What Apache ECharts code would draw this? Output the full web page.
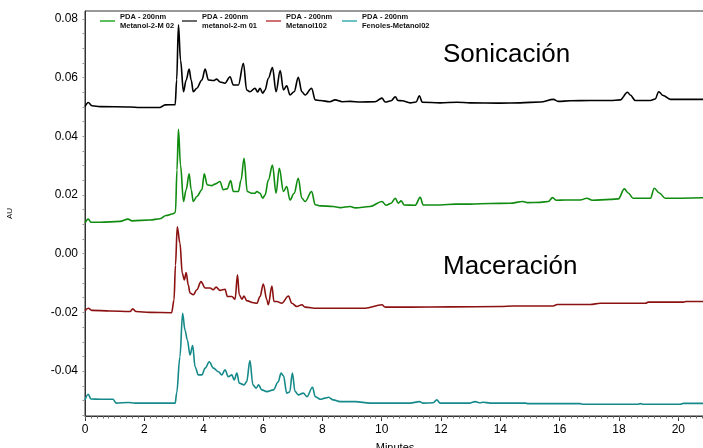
<!DOCTYPE html>
<html>
<head>
<meta charset="utf-8">
<script src="https://cdn.jsdelivr.net/npm/echarts@6/dist/echarts.min.js"></script>
<style>
  html, body { margin: 0; padding: 0; background: #fff; }
  #chart { width: 703px; height: 448px; }
</style>
</head>
<body>
<div id="chart"></div>
<script>
// HPLC chromatograms, PDA 200 nm: [time (min), absorbance (AU)]
const metanol2m01 = [
  [0.00,0.0501],[0.11,0.0515],[0.24,0.0504],[0.51,0.0501],[1.52,0.0500],[1.85,0.0498],[2.53,0.0498],
  [2.70,0.0507],[3.04,0.0508],[3.09,0.0592],[3.15,0.0780],[3.22,0.0660],[3.32,0.0552],[3.41,0.0592],
  [3.51,0.0629],[3.58,0.0592],[3.65,0.0552],[3.77,0.0564],[3.94,0.0592],[4.05,0.0629],[4.16,0.0592],
  [4.33,0.0590],[4.44,0.0595],[4.55,0.0585],[4.72,0.0581],[4.89,0.0603],[5.00,0.0575],[5.17,0.0575],
  [5.34,0.0649],[5.45,0.0558],[5.56,0.0552],[5.73,0.0564],[5.82,0.0551],[5.90,0.0564],[5.99,0.0547],
  [6.07,0.0558],[6.18,0.0598],[6.32,0.0634],[6.44,0.0552],[6.58,0.0624],[6.69,0.0558],[6.80,0.0572],
  [6.91,0.0541],[7.05,0.0552],[7.19,0.0601],[7.31,0.0552],[7.42,0.0541],[7.64,0.0564],[7.76,0.0524],
  [7.93,0.0522],[8.26,0.0518],[8.43,0.0524],[8.67,0.0518],[8.94,0.0519],[9.28,0.0517],[9.78,0.0518],
  [10.01,0.0530],[10.12,0.0517],[10.32,0.0521],[10.46,0.0535],[10.55,0.0522],[10.69,0.0521],
  [10.96,0.0514],[11.16,0.0517],[11.27,0.0538],[11.37,0.0516],[11.97,0.0514],[12.54,0.0516],
  [12.98,0.0514],[14.00,0.0513],[14.67,0.0514],[15.35,0.0517],[15.79,0.0526],[15.95,0.0519],
  [16.36,0.0521],[17.03,0.0522],[17.71,0.0522],[18.04,0.0524],[18.29,0.0550],[18.38,0.0541],
  [18.55,0.0522],[19.06,0.0522],[19.22,0.0527],[19.34,0.0552],[19.49,0.0539],[19.73,0.0526],
  [20.90,0.0526]
];

const metanol2M02 = [
  [0.00,0.0105],[0.11,0.0118],[0.20,0.0107],[0.51,0.0107],[1.18,0.0110],[1.45,0.0118],[1.59,0.0112],
  [2.19,0.0115],[2.53,0.0119],[2.73,0.0130],[2.97,0.0136],[3.05,0.0142],[3.10,0.0285],[3.15,0.0424],
  [3.22,0.0302],[3.32,0.0178],[3.41,0.0218],[3.51,0.0272],[3.58,0.0218],[3.65,0.0178],[3.77,0.0195],
  [3.94,0.0218],[4.02,0.0272],[4.12,0.0235],[4.27,0.0232],[4.38,0.0237],[4.55,0.0246],[4.66,0.0218],
  [4.79,0.0221],[4.91,0.0249],[5.00,0.0212],[5.17,0.0212],[5.26,0.0251],[5.36,0.0325],[5.47,0.0212],
  [5.62,0.0206],[5.73,0.0206],[5.79,0.0212],[5.90,0.0206],[5.99,0.0189],[6.07,0.0200],[6.18,0.0251],
  [6.32,0.0302],[6.44,0.0206],[6.55,0.0291],[6.69,0.0212],[6.80,0.0229],[6.91,0.0183],[7.05,0.0206],
  [7.19,0.0257],[7.31,0.0189],[7.42,0.0178],[7.64,0.0212],[7.76,0.0167],[7.93,0.0163],[8.37,0.0161],
  [8.60,0.0157],[8.94,0.0161],[9.11,0.0156],[9.61,0.0161],[10.01,0.0178],[10.15,0.0165],
  [10.32,0.0172],[10.46,0.0189],[10.56,0.0172],[10.66,0.0180],[10.76,0.0166],[11.13,0.0165],
  [11.30,0.0192],[11.40,0.0166],[11.97,0.0166],[12.48,0.0169],[12.98,0.0169],[13.66,0.0171],
  [14.33,0.0172],[14.76,0.0178],[14.91,0.0174],[15.35,0.0175],[15.62,0.0178],[15.76,0.0191],
  [15.89,0.0182],[16.19,0.0183],[16.69,0.0183],[16.92,0.0189],[17.10,0.0182],[17.71,0.0185],
  [17.98,0.0187],[18.18,0.0221],[18.31,0.0207],[18.48,0.0189],[19.06,0.0189],[19.19,0.0223],
  [19.36,0.0207],[19.56,0.0189],[20.90,0.0191]
];

const metanol102 = [
  [0.00,-0.0194],[0.11,-0.0186],[0.24,-0.0193],[0.84,-0.0195],[1.52,-0.0197],[1.61,-0.0188],
  [1.72,-0.0197],[2.19,-0.0200],[2.92,-0.0201],[3.00,-0.0158],[3.05,-0.0039],[3.11,0.0092],
  [3.20,0.0036],[3.28,-0.0067],[3.35,-0.0089],[3.41,-0.0064],[3.48,-0.0106],[3.54,-0.0134],
  [3.65,-0.0140],[3.77,-0.0123],[3.91,-0.0095],[4.05,-0.0117],[4.22,-0.0117],[4.32,-0.0123],
  [4.42,-0.0114],[4.55,-0.0125],[4.72,-0.0121],[4.80,-0.0146],[4.95,-0.0146],[5.06,-0.0155],
  [5.14,-0.0072],[5.20,-0.0140],[5.29,-0.0155],[5.36,-0.0144],[5.45,-0.0160],[5.68,-0.0167],
  [5.79,-0.0169],[5.90,-0.0146],[6.01,-0.0103],[6.13,-0.0157],[6.18,-0.0174],[6.30,-0.0110],
  [6.37,-0.0163],[6.47,-0.0163],[6.63,-0.0169],[6.86,-0.0144],[6.97,-0.0169],[7.14,-0.0180],
  [7.31,-0.0174],[7.42,-0.0182],[7.81,-0.0186],[8.37,-0.0186],[8.94,-0.0186],[9.44,-0.0186],
  [10.01,-0.0174],[10.12,-0.0182],[10.96,-0.0182],[12.31,-0.0181],[14.00,-0.0180],[14.44,-0.0178],
  [15.78,-0.0178],[15.92,-0.0173],[17.03,-0.0173],[17.37,-0.0169],[18.89,-0.0169],[18.99,-0.0165],
  [20.17,-0.0165],[20.27,-0.0163],[20.90,-0.0163]
];

const fenolesMetanol02 = [
  [0.00,-0.0498],[0.11,-0.0479],[0.20,-0.0495],[0.51,-0.0496],[0.94,-0.0496],[1.05,-0.0509],
  [1.45,-0.0507],[1.69,-0.0509],[3.04,-0.0509],[3.09,-0.0475],[3.20,-0.0351],[3.29,-0.0203],
  [3.37,-0.0260],[3.45,-0.0294],[3.54,-0.0345],[3.63,-0.0313],[3.71,-0.0385],[3.82,-0.0413],
  [3.94,-0.0413],[4.05,-0.0390],[4.19,-0.0368],[4.33,-0.0390],[4.50,-0.0402],[4.61,-0.0413],
  [4.72,-0.0396],[4.83,-0.0419],[4.95,-0.0413],[5.03,-0.0430],[5.12,-0.0407],[5.20,-0.0441],
  [5.36,-0.0447],[5.45,-0.0436],[5.56,-0.0364],[5.66,-0.0447],[5.77,-0.0458],[5.85,-0.0447],
  [5.96,-0.0464],[6.13,-0.0470],[6.35,-0.0464],[6.51,-0.0437],[6.61,-0.0407],[6.69,-0.0416],
  [6.80,-0.0475],[6.90,-0.0471],[6.99,-0.0407],[7.08,-0.0469],[7.19,-0.0481],[7.36,-0.0475],
  [7.48,-0.0487],[7.67,-0.0455],[7.76,-0.0487],[7.93,-0.0496],[8.09,-0.0492],[8.21,-0.0489],
  [8.37,-0.0498],[8.60,-0.0504],[9.11,-0.0504],[9.61,-0.0509],[10.96,-0.0509],[11.27,-0.0504],
  [11.40,-0.0509],[11.74,-0.0508],[11.86,-0.0498],[11.97,-0.0509],[12.98,-0.0509],[13.15,-0.0504],
  [13.32,-0.0508],[13.42,-0.0506],[13.66,-0.0509],[14.84,-0.0509],[14.94,-0.0511],[16.69,-0.0511],
  [16.79,-0.0513],[18.62,-0.0513],[18.72,-0.0511],[18.82,-0.0513],[20.07,-0.0513],[20.17,-0.0510],
  [20.90,-0.0510]
];

const timeTickLabels = [0, 2, 4, 6, 8, 10, 12, 14, 16, 18, 20];
const auTickLabels = [-0.04, -0.02, 0.00, 0.02, 0.04, 0.06, 0.08];

const seriesNames = [
  'PDA - 200nm\nMetanol-2-M 02',
  'PDA - 200nm\nmetanol-2-m 01',
  'PDA - 200nm\nMetanol102',
  'PDA - 200nm\nFenoles-Metanol02'
];
const traceColors = ['#108c10', '#000000', '#8c1212', '#168a8a'];
const legendColors = ['#5cbf5c', '#6a6a6a', '#d07070', '#6cc2c2'];
const traceData = [metanol2M02, metanol2m01, metanol102, fenolesMetanol02];
const legendLeft = [100, 182, 266, 342];

const X_MIN = 0, X_MAX = 20.9, Y_MIN = -0.0553, Y_MAX = 0.0827;

// minor tick positions along each axis
const minorTimeTicks = [];
for (let i = 0; i <= 104; i++) minorTimeTicks.push(+(i * 0.2).toFixed(1));
const minorAuTicks = [];
for (let i = -11; i <= 16; i++) minorAuTicks.push(+(i * 0.005).toFixed(3));

const font = 'Liberation Sans, Arial, sans-serif';

const chart = echarts.init(document.getElementById('chart'), null, { renderer: 'canvas' });

chart.setOption({
  animation: false,
  backgroundColor: '#ffffff',
  grid: {
    left: 85, top: 11, right: -2, bottom: 32,
    outerBoundsMode: 'none',
    containLabel: false,
    show: true, borderColor: '#333', borderWidth: 1, backgroundColor: 'transparent'
  },
  legend: seriesNames.map((name, i) => ({
    left: legendLeft[i],
    top: 12,
    orient: 'horizontal',
    padding: 0,
    itemWidth: 15,
    itemHeight: 2,
    itemGap: 5,
    icon: 'rect',
    selectedMode: false,
    data: [{ name: name, itemStyle: { color: legendColors[i] } }],
    textStyle: { fontFamily: font, fontSize: 7.5, fontWeight: 'bold', color: '#111', lineHeight: 9 }
  })),
  xAxis: [
    {
      type: 'value', min: X_MIN, max: X_MAX,
      name: 'Minutes', nameLocation: 'middle', nameGap: 26,
      nameTextStyle: { fontFamily: font, fontSize: 11, color: '#000' },
      axisLine: { show: true, onZero: false, lineStyle: { color: '#333', width: 1 } },
      axisTick: { show: true, customValues: timeTickLabels, length: 5, lineStyle: { color: '#333' } },
      axisLabel: {
        customValues: timeTickLabels, margin: 8,
        fontFamily: font, fontSize: 12, color: '#000',
        formatter: v => String(v)
      },
      splitLine: { show: false }
    },
    {
      type: 'value', min: X_MIN, max: X_MAX, position: 'bottom',
      axisLine: { show: false, onZero: false },
      axisTick: { show: true, customValues: minorTimeTicks, length: 2.5, lineStyle: { color: '#666' } },
      axisLabel: { show: false },
      splitLine: { show: false }
    }
  ],
  yAxis: [
    {
      type: 'value', min: Y_MIN, max: Y_MAX,
      name: 'AU', nameLocation: 'middle', nameGap: 71, nameRotate: 90,
      nameTextStyle: { fontFamily: font, fontSize: 8, color: '#000' },
      axisLine: { show: true, onZero: false, lineStyle: { color: '#333', width: 1 } },
      axisTick: { show: true, customValues: minorAuTicks, length: 2.5, lineStyle: { color: '#999' } },
      axisLabel: {
        customValues: auTickLabels, margin: 7,
        fontFamily: font, fontSize: 12, color: '#000',
        formatter: v => v.toFixed(2)
      },
      splitLine: { show: false }
    }
  ],
  graphic: [
    {
      type: 'text', left: 443, top: 42, silent: true,
      style: { text: 'Sonicación', font: '26px ' + font, fill: '#000' }
    },
    {
      type: 'text', left: 443, top: 254, silent: true,
      style: { text: 'Maceración', font: '26px ' + font, fill: '#000' }
    }
  ],
  series: seriesNames.map((name, i) => ({
    name: name,
    type: 'line',
    xAxisIndex: 0,
    yAxisIndex: 0,
    data: traceData[i],
    showSymbol: false,
    smooth: 0.35,
    smoothMonotone: 'x',
    lineStyle: { color: traceColors[i], width: 1.6 },
    itemStyle: { color: traceColors[i] },
    emphasis: { disabled: true },
    z: i === 1 ? 3 : 2
  }))
});
</script>
</body>
</html>
